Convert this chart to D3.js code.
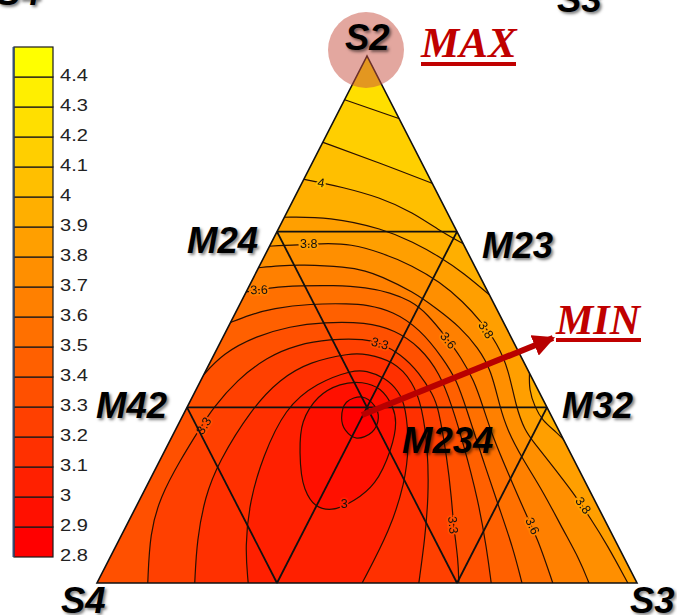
<!DOCTYPE html>
<html>
<head>
    <title>Ternary contour</title>
    <script src="https://d3js.org/d3.v7.min.js"></script>
    <style>
        html, body { margin: 0; padding: 0; background: #fff; }
        svg { display: block; }
        .vertex { font-family: "Liberation Sans", Arial, sans-serif; font-weight: bold; font-style: italic;
                  fill: #000; text-shadow: 2px 2px 3px rgba(0,0,0,.5); }
        .note { font-family: "Liberation Serif", "Times New Roman", serif; font-weight: bold; font-style: italic; fill: #c00000; }
        .clabel { font-family: "Liberation Sans", Arial, sans-serif; fill: #111; text-anchor: middle; dominant-baseline: central; }
    </style>
</head>
<body>
    <svg width="677" height="615"></svg>
    <script>
        // colour bar levels
        const legendLevels = [2.8, 2.9, 3, 3.1, 3.2, 3.3, 3.4, 3.5, 3.6, 3.7, 3.8, 3.9, 4, 4.1, 4.2, 4.3, 4.4];

        // isolines: [% along the S4-S3 base, % of height towards S2]
        const contour29 = [[45.3,31.3],[46.2,34.3],[49.1,35.3],[51.4,33.6],[52.1,31.3],[50.9,28.6],[48.1,27.5],[46.0,29.0]];
        const contour30 = [[37.6,24.7],[38.2,30.6],[41.0,35.2],[45.0,37.6],[49.1,38.0],[52.4,36.7],[54.7,33.4],[55.3,30.4],[54.3,25.2],[51.4,19.1],[47.6,15.7],[43.5,14.0],[40.6,14.7],[38.5,17.9]];
        const contour31 = [[28.0,0],[27.4,6.8],[28.3,15.7],[30.7,23.9],[34.8,33.2],[40.7,38.0],[47.4,40.4],[49.8,40.3],[53.3,39.0],[55.9,36.4],[57.2,33.4],[57.8,25.8],[57.0,19.0],[54.3,10.1],[49.1,0]];
        const contour32 = [[18.1,0],[18.5,8.2],[20.0,16.3],[22.4,22.8],[28.7,33.2],[33.9,38.7],[39.4,42.0],[46.9,43.6],[49.8,43.5],[55.0,42.1],[58.5,38.2],[60.2,33.4],[61.3,25.2],[61.4,16.3],[60.7,8.2],[59.6,0]];
        const contour33 = [[9.4,0],[9.8,9.5],[11.7,16.3],[15.4,23.3],[19.1,29.4],[21.5,33.2],[25.9,38.5],[31.5,42.9],[37.0,45.2],[43.1,46.3],[49.8,46.3],[52.4,45.5],[56.1,43.6],[59.8,39.8],[62.2,35.7],[63.2,33.4],[64.8,23.9],[65.7,15.7],[66.0,11.0],[66.9,4.4],[67.0,0]];
        const contour34 = [[19.4,39.1],[23.3,43.6],[29.6,46.9],[35.7,48.7],[41.9,49.5],[49.8,49.5],[55.2,48.0],[59.8,44.8],[63.5,39.8],[65.8,33.4],[67.8,26.6],[70.6,15.7],[72.2,6.3],[73.0,0]];
        const contour35 = [[24.4,49.3],[28.3,50.9],[32.6,52.1],[39.4,53.0],[46.9,53.0],[49.8,52.8],[54.8,51.6],[59.8,48.2],[64.1,42.6],[66.7,38.3],[68.3,33.4],[71.3,23.9],[74.6,13.9],[77.0,6.8],[78.7,0]];
        const contour36 = [[27.4,55.2],[32.4,56.1],[37.6,56.4],[43.7,56.5],[50.0,56.1],[54.3,55.1],[58.0,53.6],[61.1,51.2],[65.0,46.2],[67.4,42.8],[69.8,38.5],[71.5,33.4],[73.3,27.7],[75.9,21.4],[79.3,13.3],[81.7,8.2],[84.4,0]];
        const contour37 = [[29.6,59.8],[33.9,60.2],[37.6,60.4],[46.3,60.0],[49.8,59.2],[52.4,58.3],[58.5,55.3],[63.0,52.0],[67.2,48.6],[70.6,44.6],[73.0,40.4],[74.6,33.4],[76.0,29.0],[78.7,23.7],[82.6,17.4],[86.3,10.1],[89.4,4.4],[91.1,0]];
        const contour38 = [[31.8,63.9],[42.6,64.5],[46.9,64.3],[52.4,62.8],[58.5,60.2],[63.5,57.1],[67.8,53.4],[71.2,49.5],[74.1,45.5],[76.2,40.6],[77.6,33.4],[79.2,29.0],[80.8,26.8],[83.9,22.8],[88.5,16.7],[91.3,12.4],[94.4,7.4],[98.3,0]];
        const contour39a = [[34.4,69.4],[43.1,69.5],[53.0,67.2],[58.5,64.7],[63.5,61.9],[67.8,58.9],[73.1,54.3]];
        const contour39b = [[80.1,40.2],[80.0,36.6],[81.1,33.4],[82.4,30.9],[85.2,28.5],[87.0,26.6]];
        const contour40 = [[37.8,76.7],[41.3,76.0],[45.0,75.2],[52.4,73.2],[58.5,70.3],[63.5,66.8],[68.3,64.1]];
        const contour41 = [[41.6,83.7],[52.4,79.7],[62.4,75.7]];
        const contour42 = [[45.6,91.8],[56.3,88.0]];

        const cornerS4 = [0, 0], cornerS3 = [100, 0], cornerS2 = [50, 100];

        // mixture design points
        const m24 = [33.33, 66.67], m23 = [66.67, 66.67], m42 = [16.67, 33.33], m32 = [83.33, 33.33],
              m234 = [50, 33.33], m34 = [33.33, 0], m43 = [66.67, 0];
        const designSegments = [[m24, m23], [m42, m32], [m24, m43], [m23, m34], [m42, m34], [m32, m43]];

        // inline labels on the isolines: text, x, y, angle
        const lineLabelTexts = ["4", "3.8", "3.6", "3.3", "3.6", "3.8", "3.3", "3", "3.3", "3.6", "3.8"];
        const lineLabelLevels = [4, 3.8, 3.6, 3.3, 3.6, 3.8, 3.3, 3, 3.3, 3.6, 3.8];
        const lineLabelX = [41.5, 39.2, 30.0, 52.4, 65.0, 72.0, 19.8, 45.8, 65.9, 80.6, 90.0];
        const lineLabelY = [75.9, 64.4, 55.6, 45.4, 46.0, 48.0, 29.8, 15.0, 11.0, 10.8, 14.7];
        const lineLabelAngle = [10, 0, -2, 15, 52, 58, -58, 0, 84, 65, 55];

        const vertexLabels = ["S4", "S3", "S2", "M24", "M23", "M42", "M32", "M234", "S4", "S3"];

        const svg = d3.select("svg");

        const x = d3.scaleLinear().domain([0, 100]).range([97, 637]);
        const y = d3.scaleLinear().domain([0, 100]).range([583, 56]);
        const colorOf = d3.scaleLinear().domain([2.8, 4.4]).range(["#ff0000", "#ffff00"]);

        const openLine = d3.line().x(d => x(d[0])).y(d => y(d[1])).curve(d3.curveBasis);
        const closedLine = d3.line().x(d => x(d[0])).y(d => y(d[1])).curve(d3.curveCatmullRomClosed);
        const straight = d3.line().x(d => x(d[0])).y(d => y(d[1]));

        // each level fills everything below it, painted from the top level downwards
        const bands = [
            {level: 4.2, segs: [contour42], corners: [cornerS3, cornerS4]},
            {level: 4.1, segs: [contour41], corners: [cornerS3, cornerS4]},
            {level: 4.0, segs: [contour40], corners: [cornerS3, cornerS4]},
            {level: 3.9, segs: [contour39a, contour39b], corners: [cornerS3, cornerS4]},
            {level: 3.8, segs: [contour38], corners: [cornerS4]},
            {level: 3.7, segs: [contour37], corners: [cornerS4]},
            {level: 3.6, segs: [contour36], corners: [cornerS4]},
            {level: 3.5, segs: [contour35], corners: [cornerS4]},
            {level: 3.4, segs: [contour34], corners: [cornerS4]},
            {level: 3.3, segs: [contour33], corners: []},
            {level: 3.2, segs: [contour32], corners: []},
            {level: 3.1, segs: [contour31], corners: []},
            {level: 3.0, segs: [contour30], corners: [], closed: true},
            {level: 2.9, segs: [contour29], corners: [], closed: true}
        ];

        function regionPath(b) {
            if (b.closed) return closedLine(b.segs[0]);
            let p = b.segs.map((s, i) => i ? openLine(s).replace(/^M/, "L") : openLine(s)).join("");
            b.corners.forEach(c => { p += `L${x(c[0])},${y(c[1])}`; });
            return p + "Z";
        }

        svg.append("clipPath").attr("id", "tri")
           .append("path").attr("d", straight([cornerS4, cornerS3, cornerS2]) + "Z");

        const plot = svg.append("g").attr("clip-path", "url(#tri)").style("filter", "blur(0.35px)");

        plot.append("path")
            .attr("d", straight([cornerS4, cornerS3, cornerS2]) + "Z")
            .attr("fill", colorOf(4.2));

        plot.selectAll(".band").data(bands).enter().append("path")
            .attr("class", "band")
            .attr("d", regionPath)
            .attr("fill", d => colorOf(d.level - 0.1));

        // isolines
        bands.forEach(b => b.segs.forEach(s => {
            plot.append("path")
                .attr("d", b.closed ? closedLine(s) : openLine(s))
                .attr("fill", "none")
                .attr("stroke", "#2a1000")
                .attr("stroke-width", 1.2);
        }));

        // isoline labels cut a small gap in their line
        plot.selectAll(".clabel").data(lineLabelTexts).enter().append("text")
            .attr("class", "clabel")
            .attr("font-size", 12.5)
            .attr("transform", (d, i) => `translate(${x(lineLabelX[i])},${y(lineLabelY[i])}) rotate(${lineLabelAngle[i]})`)
            .attr("stroke", (d, i) => colorOf(lineLabelLevels[i]))
            .attr("stroke-width", 3.5)
            .style("paint-order", "stroke")
            .text(d => d);

        // design triangle lines and the outline
        svg.selectAll(".design").data(designSegments).enter().append("path")
           .attr("class", "design")
           .attr("d", straight)
           .attr("stroke", "#111")
           .attr("stroke-width", 1.8);

        svg.append("path")
           .attr("d", straight([cornerS4, cornerS3, cornerS2]) + "Z")
           .attr("fill", "none")
           .attr("stroke", "#111")
           .attr("stroke-width", 1.6);

        // colour bar
        const legendY = d3.scaleLinear().domain([2.8, 4.5]).range([557, 47]);
        svg.selectAll(".swatch").data(legendLevels).enter().append("rect")
           .attr("class", "swatch")
           .attr("x", 14)
           .attr("width", 39)
           .attr("y", d => legendY(d + 0.1))
           .attr("height", d => legendY(d) - legendY(d + 0.1))
           .attr("fill", d => colorOf(d))
           .attr("stroke", "#1a1a1a")
           .attr("stroke-width", 1.2);
        svg.append("line").attr("x1", 13.5).attr("x2", 13.5).attr("y1", 47).attr("y2", 557)
           .attr("stroke", "#34507a").attr("stroke-width", 2);

        const legendAxis = svg.append("g")
           .attr("transform", "translate(53,-2)")
           .call(d3.axisRight(legendY).tickValues(legendLevels).tickSize(0).tickPadding(7).tickFormat(String));
        legendAxis.select(".domain").remove();
        legendAxis.selectAll("text")
           .attr("font-family", "'Liberation Sans', Arial, sans-serif")
           .attr("font-size", 17)
           .attr("fill", "#222")
           .attr("text-anchor", "start")
           .style("transform-box", "fill-box")
           .style("transform-origin", "left center")
           .style("transform", "scaleX(1.18)");

        // MAX marker
        svg.append("circle").attr("cx", 366).attr("cy", 50).attr("r", 38)
           .attr("fill", "#c8503f").attr("opacity", 0.5);

        // MIN arrow
        const defs = svg.append("defs");
        defs.append("marker").attr("id", "head")
            .attr("viewBox", "0 0 20 20").attr("refX", 18).attr("refY", 10)
            .attr("markerWidth", 22).attr("markerHeight", 22)
            .attr("markerUnits", "userSpaceOnUse").attr("orient", "auto")
            .append("path").attr("d", "M0,0L20,10L0,20Z").attr("fill", "#b80000");
        svg.append("line")
           .attr("x1", 362).attr("y1", 415).attr("x2", 553).attr("y2", 338)
           .attr("stroke", "#b80000").attr("stroke-width", 6)
           .attr("marker-end", "url(#head)");

        // vertex labels
        const vertexX = [-4, 557, 345, 187, 482, 96, 562, 402, 61, 630];
        const vertexY = [5, 12, 50, 253, 258, 418, 418, 453, 613, 613];
        svg.selectAll(".vertex").data(vertexLabels).enter().append("text")
           .attr("class", "vertex")
           .attr("font-size", 36.5)
           .attr("x", (d, i) => vertexX[i])
           .attr("y", (d, i) => vertexY[i])
           .text(d => d);

        svg.append("text").attr("class", "note").attr("font-size", 43).attr("x", 421).attr("y", 57).text("MAX");
        svg.append("rect").attr("x", 421).attr("y", 62).attr("width", 95).attr("height", 4).attr("fill", "#c00000");
        svg.append("text").attr("class", "note").attr("font-size", 42).attr("x", 556).attr("y", 334).text("MIN");
        svg.append("rect").attr("x", 556).attr("y", 338).attr("width", 85).attr("height", 4).attr("fill", "#c00000");
    </script>
</body>
</html>
